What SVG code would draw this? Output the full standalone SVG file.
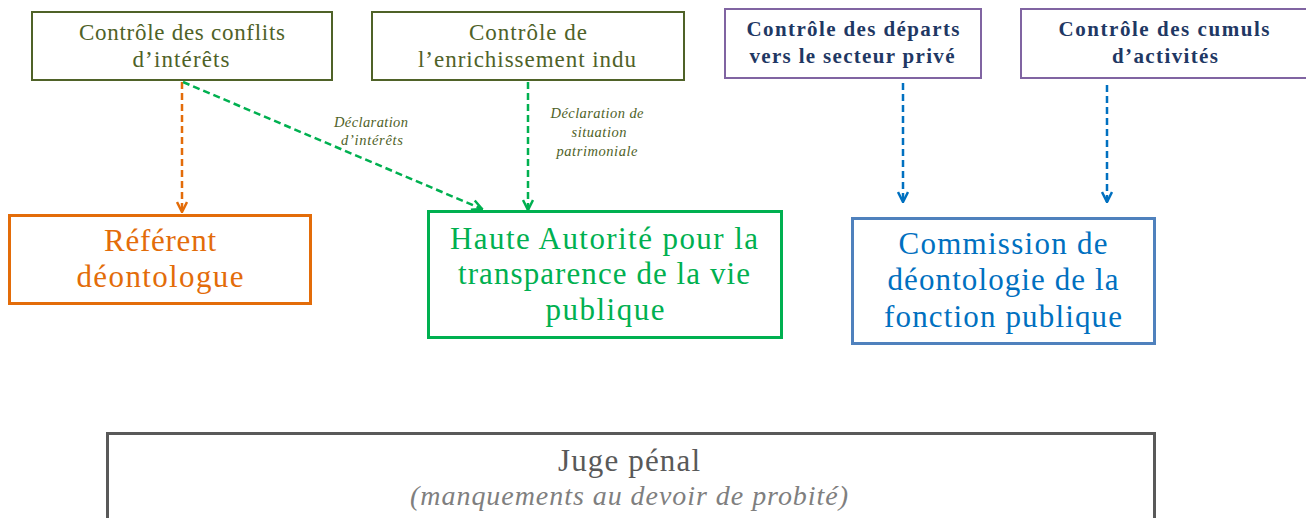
<svg xmlns="http://www.w3.org/2000/svg" width="1306" height="518" viewBox="0 0 1306 518">
<style>
text{font-family:"Liberation Serif","DejaVu Serif",serif;text-anchor:middle}
.top{fill:#fff;stroke:#4f6228;stroke-width:2}
.topt{fill:#4f6228;font-size:23px}
.pur{fill:#fff;stroke:#8064a2;stroke-width:2}
.purt{fill:#1f3864;font-size:21px;font-weight:bold}
.big{fill:#fff;stroke-width:3}
.bigt{font-size:31px}
.lbl{fill:#4f6228;font-size:14.5px;font-style:italic}
.c{fill:none;stroke-width:2.5;stroke-dasharray:7,4}
</style>
<defs>
<marker id="ao" viewBox="0 0 10 10" refX="9" refY="5" markerWidth="5" markerHeight="5" orient="auto" markerUnits="strokeWidth"><path d="M1,1 L9,5 L1,9" fill="none" stroke="#e36c09" stroke-width="2"/></marker>
<marker id="ag" viewBox="0 0 10 10" refX="9" refY="5" markerWidth="5" markerHeight="5" orient="auto" markerUnits="strokeWidth"><path d="M1,1 L9,5 L1,9" fill="none" stroke="#00b050" stroke-width="2"/></marker>
<marker id="ab" viewBox="0 0 10 10" refX="9" refY="5" markerWidth="5" markerHeight="5" orient="auto" markerUnits="strokeWidth"><path d="M1,1 L9,5 L1,9" fill="none" stroke="#0070c0" stroke-width="2"/></marker>
</defs>
<g id="connectors">
<path class="c" stroke="#e36c09" d="M182,82 L182,212" marker-end="url(#ao)"/>
<path class="c" stroke="#00b050" d="M183,82 L482,209" marker-end="url(#ag)"/>
<path class="c" stroke="#00b050" d="M528,82 L528,210" marker-end="url(#ag)"/>
<path class="c" stroke="#0070c0" stroke-dasharray="5,3" d="M903,83 L903,202" marker-end="url(#ab)"/>
<path class="c" stroke="#0070c0" stroke-dasharray="5,3" d="M1107,85 L1107,202" marker-end="url(#ab)"/>
<text class="lbl" x="371" y="127" textLength="74">Déclaration</text>
<text class="lbl" x="372" y="145" textLength="62">d’intérêts</text>
<text class="lbl" x="597" y="118" textLength="93">Déclaration de</text>
<text class="lbl" x="599" y="137" textLength="55">situation</text>
<text class="lbl" x="597" y="156" textLength="81">patrimoniale</text>
</g>
<g id="n1"><rect class="top" x="32" y="12" width="300" height="68"/><text class="topt" x="182" y="40" textLength="206">Contrôle des conflits</text><text class="topt" x="181" y="67" textLength="97">d’intérêts</text></g>
<g id="n2"><rect class="top" x="372" y="12" width="312" height="68"/><text class="topt" x="528" y="40" textLength="118">Contrôle de</text><text class="topt" x="527" y="67" textLength="218">l’enrichissement indu</text></g>
<g id="n3"><rect class="pur" x="725" y="9" width="256" height="69"/><text class="purt" x="853" y="36" textLength="213">Contrôle des départs</text><text class="purt" x="852" y="63" textLength="205">vers le secteur privé</text></g>
<g id="n4"><rect class="pur" x="1021" y="9" width="290" height="69"/><text class="purt" x="1164" y="36" textLength="211">Contrôle des cumuls</text><text class="purt" x="1165" y="63" textLength="106">d’activités</text></g>
<g id="n5"><rect class="big" stroke="#e36c09" x="9.5" y="215.5" width="301" height="88"/><text class="bigt" fill="#e36c09" x="160" y="251" textLength="112">Référent</text><text class="bigt" fill="#e36c09" x="160" y="287" textLength="167">déontologue</text></g>
<g id="n6"><rect class="big" stroke="#00b050" x="428.5" y="211.5" width="353" height="126"/><text class="bigt" fill="#00b050" x="604" y="249" textLength="308">Haute Autorité pour la</text><text class="bigt" fill="#00b050" x="604" y="284" textLength="292">transparence de la vie</text><text class="bigt" fill="#00b050" x="605" y="320" textLength="119">publique</text></g>
<g id="n7"><rect class="big" stroke="#4f81bd" x="852.5" y="218.5" width="302" height="125"/><text class="bigt" fill="#0070c0" x="1003" y="254" textLength="209">Commission de</text><text class="bigt" fill="#0070c0" x="1003" y="290" textLength="231">déontologie de la</text><text class="bigt" fill="#0070c0" x="1003" y="327" textLength="238">fonction publique</text></g>
<g id="n8"><rect class="big" stroke="#595959" x="107.5" y="433.5" width="1047" height="100"/><text fill="#595959" font-size="31" x="629" y="471" textLength="142">Juge pénal</text><text fill="#7f7f7f" font-size="28" font-style="italic" x="629" y="505" textLength="438">(manquements au devoir de probité)</text></g>
</svg>
